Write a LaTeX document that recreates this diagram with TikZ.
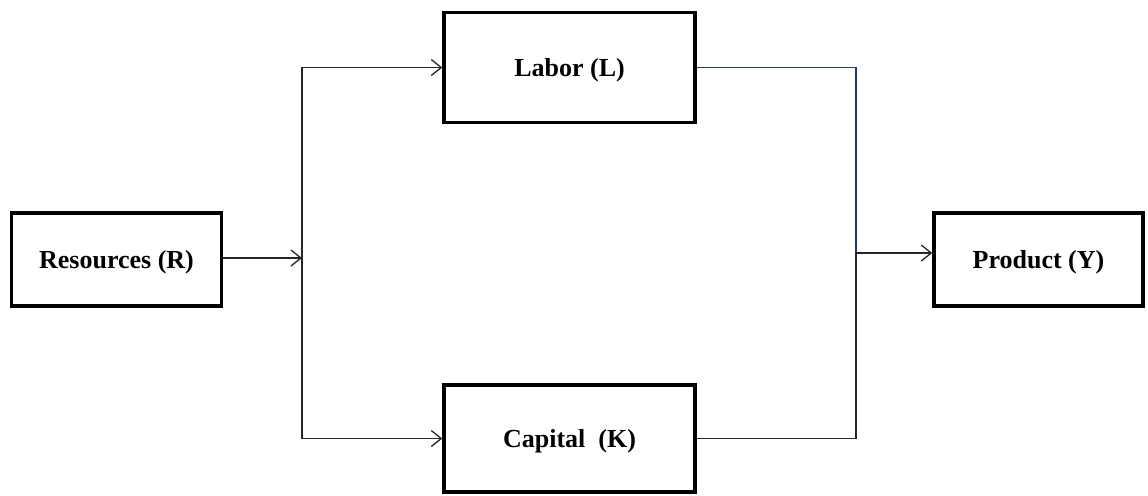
\documentclass[tikz,border=0pt]{standalone}
\usepackage{fontspec}
\setmainfont{Liberation Serif}
\usepackage{tikz}
\usetikzlibrary{arrows.meta, positioning}
\tikzstyle{factor} = [rectangle, minimum width=125.5pt, minimum height=55pt, text centered, text depth=0pt, draw=black, line width=1.7pt, font=\fontsize{13}{15}\selectfont\bfseries]
\tikzstyle{outer} = [rectangle, minimum width=105pt, minimum height=46.5pt, text centered, text depth=0pt, draw=black, line width=1.7pt, font=\fontsize{13}{15}\selectfont\bfseries]
\tikzstyle{line} = [line width=0.65pt, draw=black!85]
\tikzstyle{arrow} = [line, -{Straight Barb[length=5pt, width=8pt, line width=0.65pt]}]

\begin{document}
\begin{tikzpicture}[x=0.5pt, y=-0.5pt]
    \useasboundingbox (0,0) rectangle (1148,495);
    \node (res) [outer] at (116.5,259.5) {Resources (R)};
    \node (labor) [factor] at (569.5,67.5) {Labor (L)};
    \node (capital) [factor, minimum height=53.5pt] at (569.5,438.5) {Capital~~(K)};
    \node (prod) [outer, minimum width=104.5pt] at (1038.5,259.5) {Product (Y)};
    \coordinate (split) at (302,258);
    \coordinate (merge) at (856,253);

    \draw [arrow] (res.east |- split) -- (split);
    \draw [arrow] (split) |- (labor.west);
    \draw [arrow] (split) |- (capital.west);
    \draw [line, draw={rgb,255:red,40;green,55;blue,110}] (labor.east) -| (merge);
    \draw [line] (capital.east) -| (merge);
    \draw [arrow] (merge) -- (merge -| prod.west);
\end{tikzpicture}
\end{document}
